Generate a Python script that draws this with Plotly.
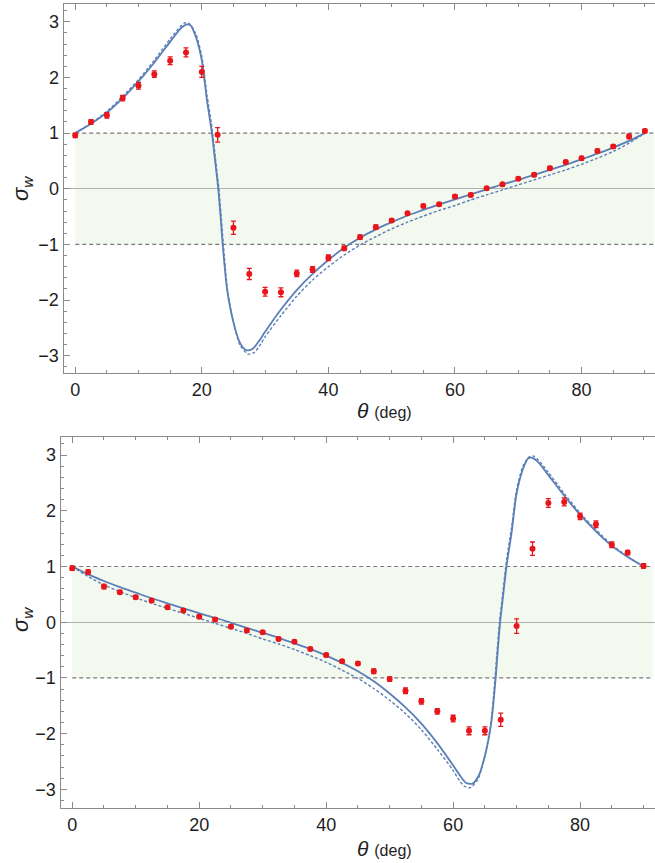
import plotly.graph_objects as go

# ---------------- data ----------------
# Top panel: measured points
top_theta = [0, 2.5, 5, 7.5, 10, 12.5, 15, 17.5, 20, 22.5, 25, 27.5, 30, 32.5, 35, 37.5,
             40, 42.5, 45, 47.5, 50, 52.5, 55, 57.5, 60, 62.5, 65, 67.5, 70, 72.5, 75,
             77.5, 80, 82.5, 85, 87.5, 90]
top_vals = [0.96, 1.20, 1.32, 1.63, 1.85, 2.06, 2.30, 2.45, 2.10, 0.97, -0.70, -1.53, -1.85,
            -1.86, -1.52, -1.45, -1.24, -1.07, -0.87, -0.69, -0.57, -0.44, -0.31, -0.28,
            -0.14, -0.11, 0.01, 0.08, 0.18, 0.25, 0.37, 0.48, 0.55, 0.68, 0.76, 0.94, 1.04]
top_errs = [0.04, 0.04, 0.05, 0.05, 0.06, 0.06, 0.07, 0.08, 0.10, 0.13, 0.12, 0.10, 0.08,
            0.08, 0.06, 0.05, 0.05, 0.04, 0.04, 0.04, 0.03, 0.03, 0.03, 0.03, 0.03, 0.03,
            0.03, 0.03, 0.03, 0.03, 0.03, 0.03, 0.03, 0.03, 0.03, 0.04, 0.03]

# Top panel: theory curve (solid)
top_solid_theta = [0, 2.5, 5, 7.5, 10, 12.5, 15, 16.5, 17.5, 18.2, 19, 20, 20.8, 21.6, 22.2,
                   22.6, 23.0, 23.3, 24.0, 25.0, 26.0, 27.0, 28.0, 29.0, 30.0, 32.5, 35, 37.5,
                   40, 42.5, 45, 47.5, 50, 52.5, 55, 57.5, 60, 62.5, 65, 67.5, 70, 72.5, 75,
                   77.5, 80, 82.5, 85, 87.5, 90]
top_solid_vals = [1.00, 1.17, 1.37, 1.63, 1.93, 2.27, 2.64, 2.86, 2.95, 2.94, 2.75, 2.31, 1.60,
                  1.00, 0.40, 0.00, -0.55, -1.00, -1.81, -2.40, -2.76, -2.90, -2.88, -2.74,
                  -2.57, -2.17, -1.82, -1.53, -1.28, -1.06, -0.88, -0.73, -0.60, -0.48, -0.38,
                  -0.28, -0.19, -0.10, -0.01, 0.08, 0.16, 0.25, 0.34, 0.43, 0.53, 0.63, 0.74,
                  0.86, 1.00]

# Top panel: theory curve (dashed)
top_dash_theta = [0, 2.5, 5, 7.5, 10, 12.5, 15, 16.5, 17.3, 18.0, 19, 20, 20.8, 21.6, 22.2,
                  22.7, 23.1, 23.4, 24.1, 25.1, 26.1, 27.3, 28.3, 29.3, 30.0, 32.5, 35, 37.5,
                  40, 42.5, 45, 47.5, 50, 52.5, 55, 57.5, 60, 62.5, 65, 67.5, 70, 72.5, 75,
                  77.5, 80, 82.5, 85, 87.5, 90]
top_dash_vals = [1.00, 1.18, 1.39, 1.66, 1.96, 2.31, 2.69, 2.90, 2.98, 2.97, 2.80, 2.38, 1.70,
                 1.10, 0.50, 0.00, -0.55, -1.00, -1.85, -2.45, -2.82, -2.97, -2.94, -2.79,
                 -2.66, -2.28, -1.93, -1.64, -1.40, -1.19, -1.01, -0.86, -0.72, -0.60, -0.49,
                 -0.39, -0.30, -0.20, -0.11, -0.02, 0.07, 0.16, 0.25, 0.34, 0.44, 0.55, 0.67,
                 0.82, 1.00]

# Bottom panel: measured points
bot_theta = top_theta
bot_vals = [0.97, 0.90, 0.64, 0.54, 0.45, 0.39, 0.27, 0.21, 0.10, 0.05, -0.08, -0.15, -0.18,
            -0.30, -0.35, -0.48, -0.59, -0.70, -0.74, -0.88, -1.02, -1.23, -1.42, -1.60,
            -1.73, -1.95, -1.95, -1.75, -0.07, 1.32, 2.14, 2.16, 1.90, 1.76, 1.39, 1.25, 1.01]
bot_errs = [0.04, 0.04, 0.04, 0.03, 0.03, 0.03, 0.03, 0.03, 0.03, 0.03, 0.03, 0.03, 0.03,
            0.03, 0.03, 0.03, 0.03, 0.03, 0.03, 0.04, 0.04, 0.05, 0.05, 0.05, 0.06, 0.07,
            0.07, 0.12, 0.13, 0.12, 0.08, 0.07, 0.06, 0.06, 0.05, 0.04, 0.04]

# Bottom panel: theory curve (solid)
bot_solid_theta = [0, 2.5, 5, 7.5, 10, 12.5, 15, 17.5, 20, 22.5, 25, 27.5, 30, 32.5, 35,
                   37.5, 40, 42.5, 45, 47.5, 50, 52.5, 55, 57.5, 60, 61, 62, 63, 64, 65, 66,
                   66.7, 67.0, 67.4, 67.8, 68.4, 69.2, 70, 71, 71.8, 72.5, 73.5, 75, 77.5,
                   80, 82.5, 85, 87.5, 90]
bot_solid_vals = [1.00, 0.86, 0.74, 0.63, 0.53, 0.43, 0.34, 0.25, 0.16, 0.08, -0.01, -0.10,
                  -0.19, -0.28, -0.38, -0.48, -0.60, -0.73, -0.88, -1.06, -1.28, -1.53,
                  -1.82, -2.17, -2.57, -2.74, -2.88, -2.90, -2.76, -2.40, -1.81, -1.00,
                  -0.55, 0.00, 0.40, 1.00, 1.60, 2.31, 2.75, 2.94, 2.95, 2.86, 2.64, 2.27,
                  1.93, 1.63, 1.37, 1.17, 1.00]

# Bottom panel: theory curve (dashed)
bot_dash_theta = [0, 2.5, 5, 7.5, 10, 12.5, 15, 17.5, 20, 22.5, 25, 27.5, 30, 32.5, 35,
                  37.5, 40, 42.5, 45, 47.5, 50, 52.5, 55, 57.5, 60, 60.7, 61.7, 62.7, 63.9,
                  64.9, 65.9, 66.6, 66.9, 67.3, 67.8, 68.4, 69.2, 70, 71, 72.0, 72.7, 73.5,
                  75, 77.5, 80, 82.5, 85, 87.5, 90]
bot_dash_vals = [1.00, 0.82, 0.67, 0.55, 0.44, 0.34, 0.25, 0.16, 0.07, -0.02, -0.11, -0.20,
                 -0.30, -0.39, -0.49, -0.60, -0.72, -0.86, -1.01, -1.19, -1.40, -1.64,
                 -1.93, -2.28, -2.66, -2.79, -2.94, -2.97, -2.82, -2.45, -1.85, -1.00,
                 -0.55, 0.00, 0.50, 1.10, 1.70, 2.38, 2.80, 2.97, 2.98, 2.90, 2.69, 2.31,
                 1.96, 1.66, 1.39, 1.18, 1.00]

# Shaded band and reference levels
band_limits = [-1, 1]
band_theta = [0, 91.5]

x_ticks = [0, 20, 40, 60, 80]
y_ticks = [-3, -2, -1, 0, 1, 2, 3]
y_tick_text = ["\u22123", "\u22122", "\u22121", "0", "1", "2", "3"]

# ---------------- styling ----------------
W, H = 655, 863
BLUE = "#5b7fb6"
RED = "#e8161b"
FRAME = "#8a8a8a"
TXT = "#1e1e1e"
GREEN = "#f3f9ef"
FONT = "Liberation Sans, Arial, sans-serif"

fig = go.Figure()

panels = [
    dict(xa="x", ya="y", theta=top_theta, vals=top_vals, errs=top_errs,
         st=top_solid_theta, sv=top_solid_vals, dt=top_dash_theta, dv=top_dash_vals),
    dict(xa="x2", ya="y2", theta=bot_theta, vals=bot_vals, errs=bot_errs,
         st=bot_solid_theta, sv=bot_solid_vals, dt=bot_dash_theta, dv=bot_dash_vals),
]

for p in panels:
    fig.add_trace(go.Scatter(x=p["dt"], y=p["dv"], mode="lines", xaxis=p["xa"], yaxis=p["ya"],
                             line=dict(color=BLUE, width=1.4, dash="3px,2px", shape="spline",
                                       smoothing=0.7),
                             showlegend=False, hoverinfo="skip"))
    fig.add_trace(go.Scatter(x=p["st"], y=p["sv"], mode="lines", xaxis=p["xa"], yaxis=p["ya"],
                             line=dict(color=BLUE, width=1.8, shape="spline", smoothing=0.7),
                             showlegend=False, hoverinfo="skip"))
    fig.add_trace(go.Scatter(x=p["theta"], y=p["vals"], mode="markers", xaxis=p["xa"],
                             yaxis=p["ya"],
                             marker=dict(color=RED, size=6, line=dict(width=0)),
                             error_y=dict(type="data", array=p["errs"], visible=True,
                                          color=RED, thickness=1.3, width=2.5),
                             showlegend=False))

# band + dashed levels
shapes = []
for xa, ya in (("x", "y"), ("x2", "y2")):
    shapes.append(dict(type="rect", xref=xa, yref=ya, x0=band_theta[0], x1=band_theta[1],
                       y0=band_limits[0], y1=band_limits[1], fillcolor=GREEN,
                       line=dict(width=0), layer="below"))
    for lv in band_limits:
        shapes.append(dict(type="line", xref=xa, yref=ya, x0=band_theta[0], x1=band_theta[1],
                           y0=lv, y1=lv, line=dict(color="#7a7a7a", width=1.2, dash="4px,3px"),
                           layer="below"))

# geometry in pixels
top_px = dict(l=63.5, t=4, b=373)
bot_px = dict(l=60.5, t=436.7, b=808.3)

def xaxis_cfg(left_px, rng):
    return dict(domain=[left_px / W, 1.0], range=rng, tickvals=x_ticks,
                ticks="inside", ticklen=6, tickwidth=1, tickcolor=FRAME,
                minor=dict(dtick=5, tick0=0, ticks="inside", ticklen=3, tickcolor=FRAME),
                showline=True, linecolor=FRAME, linewidth=1, mirror="ticks",
                showgrid=False, zeroline=False,
                tickfont=dict(family=FONT, size=18, color=TXT), fixedrange=True)

def yaxis_cfg(top, bot, rng):
    return dict(domain=[1 - bot / H, 1 - top / H], range=rng, tickvals=y_ticks,
                ticktext=y_tick_text,
                ticks="inside", ticklen=6, tickwidth=1, tickcolor=FRAME,
                minor=dict(dtick=0.2, tick0=0, ticks="inside", ticklen=3, tickcolor=FRAME),
                showline=True, linecolor=FRAME, linewidth=1, mirror=False,
                showgrid=False, zeroline=True, zerolinecolor="#b0b0b0", zerolinewidth=1.4,
                tickfont=dict(family=FONT, size=18, color=TXT), fixedrange=True)

fig.update_layout(
    width=W, height=H, margin=dict(l=0, r=0, t=0, b=0),
    paper_bgcolor="white", plot_bgcolor="white",
    xaxis=dict(**xaxis_cfg(top_px["l"], [-1.85, 91.6]), anchor="y"),
    yaxis=dict(**yaxis_cfg(top_px["t"], top_px["b"], [-3.31, 3.32]), anchor="x"),
    xaxis2=dict(**xaxis_cfg(bot_px["l"], [-1.85, 91.8]), anchor="y2"),
    yaxis2=dict(**yaxis_cfg(bot_px["t"], bot_px["b"], [-3.34, 3.33]), anchor="x2"),
    shapes=shapes,
    showlegend=False,
)

ann = []
for (cy, ty) in ((189, 410), (620, 848)):
    ann.append(dict(xref="paper", yref="paper", x=22 / W, y=1 - cy / H,
                    text="<i>σ</i><sub><i>w</i></sub>", textangle=-90, showarrow=False,
                    font=dict(family=FONT, size=22, color=TXT), xanchor="center",
                    yanchor="middle"))
    ann.append(dict(xref="paper", yref="paper", x=384 / W, y=1 - ty / H,
                    text="<i>θ</i> <span style='font-size:16px'>(deg)</span>",
                    showarrow=False, font=dict(family=FONT, size=21, color=TXT),
                    xanchor="center", yanchor="middle"))
fig.update_layout(annotations=ann)

fig.write_html("out.html",
               config={"displayModeBar": False, "staticPlot": True},
               post_script="document.body.style.margin='0px';"
                           "document.body.style.overflow='hidden';")
